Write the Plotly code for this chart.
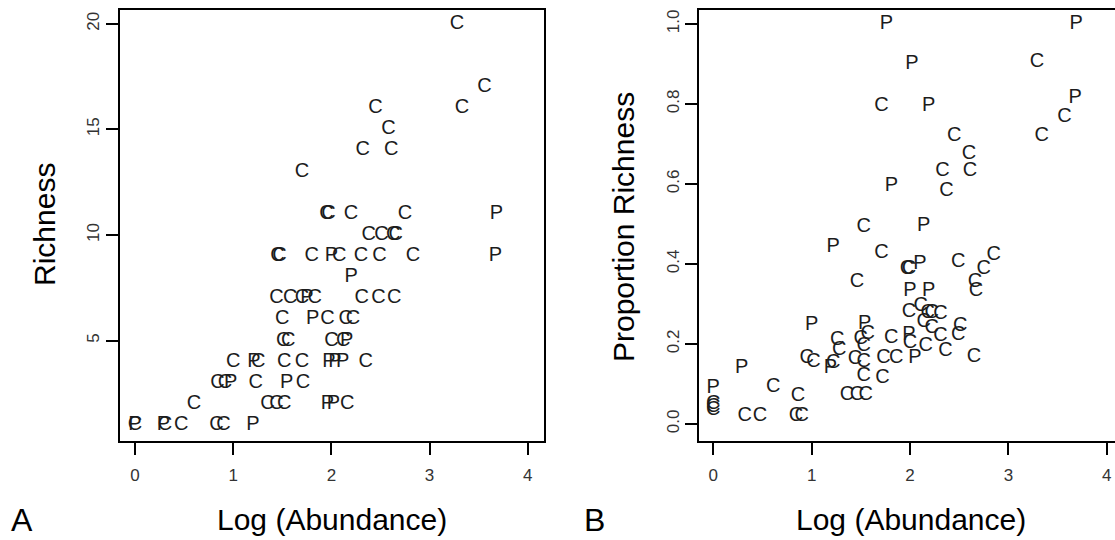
import plotly.graph_objects as go

# ---------------- Panel A: richness vs log abundance ----------------
a_c_x = [3.28, 3.56, 2.45, 3.33, 2.58, 2.32, 2.61, 1.70,
         1.95, 1.97, 2.20, 2.75,
         2.38, 2.51, 2.63, 2.655,
         1.45, 1.47, 1.80, 2.08, 2.30, 2.49, 2.83,
         1.44, 1.58, 1.70, 1.83, 2.31, 2.48, 2.64,
         1.50, 1.96, 2.145, 2.22,
         1.51, 1.56, 2.00, 2.12,
         1.00, 1.255, 1.52, 1.70, 2.35,
         0.84, 0.915, 1.23, 1.71,
         0.60, 1.35, 1.44, 1.52, 2.16,
         0.00, 0.305, 0.47, 0.83, 0.90]
a_c_y = [20, 17, 16, 16, 15, 14, 14, 13,
         11, 11, 11, 11,
         10, 10, 10, 10,
         9, 9, 9, 9, 9, 9, 9,
         7, 7, 7, 7, 7, 7, 7,
         6, 6, 6, 6,
         5, 5, 5, 5,
         4, 4, 4, 4, 4,
         3, 3, 3, 3,
         2, 2, 2, 2, 2,
         1, 1, 1, 1, 1]
a_p_x = [3.68, 2.00, 3.67, 2.20, 1.75, 1.81, 2.155,
         1.21, 1.975, 2.035, 2.115, 0.975, 1.545, 1.96, 2.02,
         0.00, 0.29, 1.20]
a_p_y = [11, 9, 9, 8, 7, 6, 5,
         4, 4, 4, 4, 3, 3, 2, 2,
         1, 1, 1]

# ---------------- Panel B: proportion richness vs log abundance ----------------
b_c_x = [3.29, 1.71, 3.57, 3.34, 2.45, 2.60, 2.33, 2.61, 2.37,
         1.53, 1.71, 2.49, 2.85, 2.75, 2.66, 2.67, 1.97, 1.99, 1.46,
         1.99, 2.11, 2.18, 2.22, 2.31, 2.14, 2.22, 2.51, 2.49, 2.31,
         2.16, 2.36, 2.65, 2.00, 1.81, 1.73, 1.86,
         1.57, 1.50, 1.53, 1.44, 1.53, 1.26, 1.28, 0.95, 1.02, 1.22,
         1.72, 1.53, 1.36, 1.46, 1.55,
         0.00, 0.00, 0.00, 0.32, 0.475, 0.61, 0.86, 0.84, 0.90]
b_c_y = [0.905, 0.795, 0.767, 0.720, 0.720, 0.675, 0.632, 0.632, 0.582,
         0.493, 0.428, 0.406, 0.423, 0.388, 0.354, 0.332, 0.388, 0.388, 0.354,
         0.281, 0.295, 0.277, 0.278, 0.274, 0.256, 0.240, 0.245, 0.222, 0.220,
         0.194, 0.183, 0.168, 0.202, 0.216, 0.164, 0.164,
         0.226, 0.212, 0.195, 0.163, 0.155, 0.210, 0.185, 0.165, 0.155, 0.152,
         0.116, 0.120, 0.073, 0.073, 0.073,
         0.050, 0.043, 0.035, 0.020, 0.020, 0.092, 0.070, 0.020, 0.020]
b_p_x = [1.76, 3.69, 2.02, 2.19, 3.68, 1.81, 2.14, 1.22, 2.10,
         2.00, 2.19, 1.99, 2.05, 1.54, 1.19, 0.00, 0.29, 1.00]
b_p_y = [1.000, 1.000, 0.900, 0.795, 0.815, 0.595, 0.495, 0.442, 0.400,
         0.332, 0.332, 0.222, 0.166, 0.250, 0.139, 0.089, 0.139, 0.248]

a_xticks = [0, 1, 2, 3, 4]
a_yticks = [5, 10, 15, 20]
b_xticks = [0, 1, 2, 3, 4]
b_yticks = [0.0, 0.2, 0.4, 0.6, 0.8, 1.0]

W, H = 1115, 540
FONT = "Liberation Sans, Arial, Helvetica, sans-serif"
MARK = "#1c1c1c"
TICK = "#333333"


def px_x(p):
    return p / W


def px_y(p):
    return 1 - p / H


fig = go.Figure()

for xs, ys, lab, xa, ya in [
    (a_c_x, a_c_y, "C", "x", "y"),
    (a_p_x, a_p_y, "P", "x", "y"),
    (b_c_x, b_c_y, "C", "x2", "y2"),
    (b_p_x, b_p_y, "P", "x2", "y2"),
]:
    fig.add_trace(go.Scatter(
        x=xs, y=ys, mode="text", text=[lab] * len(xs),
        textposition="middle center",
        textfont=dict(family=FONT, size=20, color=MARK),
        xaxis=xa, yaxis=ya, showlegend=False, hoverinfo="x+y+text",
    ))

axis_common = dict(
    showgrid=False, zeroline=False, showline=True, linecolor="black",
    linewidth=2, ticks="outside", ticklen=12, tickwidth=1.5,
    tickcolor="black", tickfont=dict(family=FONT, size=17, color=TICK),
)

y_top, y_bot = 10, 440.7
fig.update_layout(
    width=W, height=H,
    margin=dict(l=0, r=0, t=0, b=0),
    paper_bgcolor="white", plot_bgcolor="white",
    xaxis=dict(axis_common, domain=[px_x(120), px_x(544)],
               range=[-0.153, 4.165], tickvals=a_xticks, mirror=True,
               anchor="y", ticklabelstandoff=6),
    yaxis=dict(axis_common, domain=[px_y(y_bot), px_y(y_top)],
               range=[0.26, 20.65], tickvals=a_yticks, mirror=True,
               anchor="x", tickangle=-90, ticklabelstandoff=0),
    xaxis2=dict(axis_common, domain=[px_x(699.3), 1.0],
                range=[-0.142, 4.084], tickvals=b_xticks, mirror=True,
                anchor="y2", ticklabelstandoff=6),
    yaxis2=dict(axis_common, domain=[px_y(y_bot), px_y(y_top)],
                range=[-0.042, 1.035], tickvals=b_yticks, tickformat=".1f",
                anchor="x2", tickangle=-90, ticklabelstandoff=0),
)

title_font = dict(family=FONT, size=30, color="black")
notes = [
    dict(text="Log (Abundance)", x=px_x(332), y=px_y(519), textangle=0),
    dict(text="Log (Abundance)", x=px_x(911), y=px_y(519), textangle=0),
    dict(text="Richness", x=px_x(44), y=px_y(225), textangle=-90),
    dict(text="Proportion Richness", x=px_x(623), y=px_y(227), textangle=-90),
]
for n in notes:
    fig.add_annotation(xref="paper", yref="paper", showarrow=False,
                       xanchor="center", yanchor="middle", font=title_font, **n)

for lab, xp in [("A", 22), ("B", 594)]:
    fig.add_annotation(text=lab, xref="paper", yref="paper", showarrow=False,
                       x=px_x(xp), y=px_y(520), xanchor="center",
                       yanchor="middle",
                       font=dict(family=FONT, size=32, color="black"))

fig.write_html("out.html")
